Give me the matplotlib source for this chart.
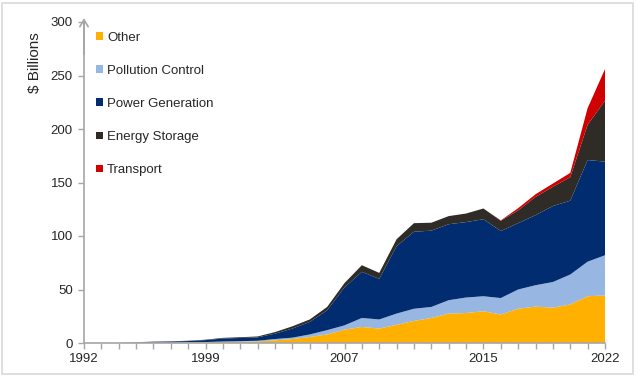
#!/usr/bin/env python3
"""Stacked area chart: annual spending by category, 1992-2022 ($ billions)."""
import matplotlib
matplotlib.use("Agg")
import matplotlib.pyplot as plt
from matplotlib.patches import Patch, Rectangle

plt.rcParams["font.family"] = ["Liberation Sans", "DejaVu Sans"]

years = list(range(1992, 2023))

# values, $ billions
other = [0, 0, 0, 0.1, 0.2, 0.3, 0.4, 0.6, 1.0, 1.2, 1.5, 2.5, 3.7, 5.6, 8.0, 12.5,
         15.0, 13.5, 17.0, 20.6, 23.4, 27.5, 28.0, 29.7, 26.6, 32.0, 34.0, 33.0, 36.0, 43.7, 44.4]
pollution = [0, 0, 0, 0.1, 0.1, 0.1, 0.2, 0.3, 0.4, 0.5, 0.6, 1.2, 1.3, 2.4, 4.0, 4.0,
             8.4, 8.5, 10.5, 11.4, 10.3, 12.5, 14.5, 14.0, 15.4, 18.0, 20.0, 24.0, 28.0, 32.3, 37.6]
power = [0, 0, 0, 0.4, 0.8, 1.0, 1.2, 1.8, 2.8, 3.0, 3.2, 5.0, 8.5, 11.7, 18.6, 35.5,
         43.1, 38.0, 63.0, 72.0, 71.3, 71.0, 70.5, 72.0, 62.6, 62.0, 65.5, 71.0, 69.0, 95.0, 87.5]
storage = [0, 0, 0, 0.1, 0.2, 0.2, 0.3, 0.4, 0.6, 0.7, 0.8, 1.5, 2.1, 2.3, 3.1, 4.0,
           6.2, 5.5, 6.5, 8.0, 7.4, 7.6, 8.0, 10.0, 9.6, 12.0, 17.0, 18.0, 22.0, 33.0, 57.0]
transport = [0, 0, 0, 0, 0, 0, 0, 0, 0, 0, 0, 0, 0, 0, 0, 0,
             0, 0, 0, 0, 0, 0, 0, 0, 0.4, 2.0, 2.5, 3.0, 4.0, 15.5, 29.5]

labels = ["Other", "Pollution Control", "Power Generation", "Energy Storage", "Transport"]
colors = ["#FFB000", "#98B6E2", "#012D70", "#2F2B27", "#D00000"]
year_labels = {1992: "1992", 1999: "1999", 2007: "2007", 2015: "2015", 2022: "2022"}

fig = plt.figure(figsize=(6.36, 3.77), dpi=100)
ax = fig.add_axes([84 / 636, 1 - 343 / 377, 521 / 636, 321 / 377])

ax.stackplot(years, other, pollution, power, storage, transport,
             colors=colors, linewidth=0)

ax.set_xlim(1992, 2022)
ax.set_ylim(0, 300)
ax.set_yticks(range(0, 301, 50))
ax.set_xticks(years)
ax.set_xticklabels([year_labels.get(y, "") for y in years])

axis_grey = "#A6A6A6"
for side in ("top", "right"):
    ax.spines[side].set_visible(False)
for side in ("left", "bottom"):
    ax.spines[side].set_color(axis_grey)
    ax.spines[side].set_linewidth(1.2)
ax.tick_params(axis="both", colors=axis_grey, labelcolor="#262626",
               labelsize=9.5, length=4, width=1)
ax.tick_params(axis="x", pad=3)
ax.tick_params(axis="y", pad=4)

# open arrowhead on top of the value axis
ax.annotate("", xy=(0, 1.012), xytext=(0, 0.9), xycoords="axes fraction",
            arrowprops=dict(arrowstyle="->,head_length=0.5,head_width=0.3",
                            color=axis_grey, lw=1.2, shrinkA=0, shrinkB=0),
            annotation_clip=False)

fig.text(35 / 636, 1 - 63 / 377, "$ Billions", rotation=90, fontsize=11,
         color="#262626", ha="center", va="center")

handles = [Patch(facecolor=c, edgecolor="none") for c in colors]
ax.legend(handles, labels, loc="upper left", bbox_to_anchor=(0.023, 0.970),
          frameon=False, fontsize=9.5, labelspacing=1.6, borderpad=0,
          borderaxespad=0, handlelength=0.5, handleheight=0.5, handletextpad=0.35,
          labelcolor="#262626")

fig.add_artist(Rectangle((2 / 636, 3 / 377), 631 / 636, 371 / 377,
                         transform=fig.transFigure, fill=False,
                         edgecolor="#D9D9D9", linewidth=1.2))

fig.savefig("out.png", dpi=100)
